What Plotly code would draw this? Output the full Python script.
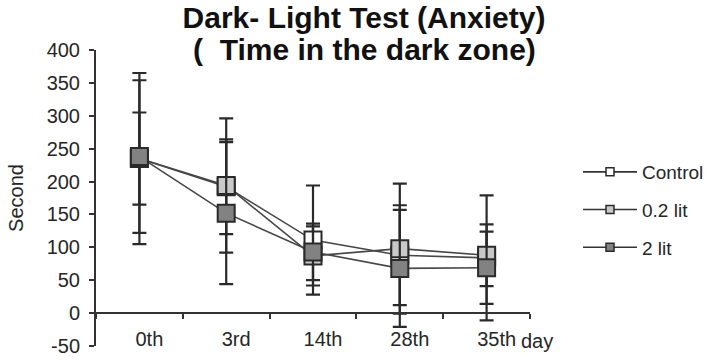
import plotly.graph_objects as go

# Test days (categories)
days = ["0th", "3rd", "14th", "28th", "35th"]

# Mean time spent in the dark zone (seconds) and standard deviations
control = [235, 192, 111, 88, 84]
control_sd = [130, 72, 83, 76, 95]

lit_02 = [235, 194, 87, 98, 88]
lit_02_sd = [70, 102, 45, 99, 47]

lit_2 = [238, 152, 93, 68, 69]
lit_2_sd = [116, 108, 43, 89, 55]

# Y axis ticks (hyphen-minus labels)
y_ticks = [-50, 0, 50, 100, 150, 200, 250, 300, 350, 400]
y_tick_text = ["-50", "0", "50", "100", "150", "200", "250", "300", "350", "400"]

series = [
    ("Control", control, control_sd, "#ffffff"),
    ("0.2 lit", lit_02, lit_02_sd, "#c8c8c8"),
    ("2 lit", lit_2, lit_2_sd, "#828282"),
]

FONT = "Liberation Sans, Arial, sans-serif"
INK = "#262626"
EDGE = "#2a2a2a"

fig = go.Figure()

for name, vals, sd, fill in series:
    fig.add_trace(go.Scatter(
        x=days, y=vals, name=name, mode="lines+markers",
        line=dict(color="#474747", width=1.6),
        marker=dict(symbol="square", size=17, color=fill,
                    line=dict(color=EDGE, width=2)),
        error_y=dict(type="data", array=sd, visible=True,
                     color=EDGE, thickness=2.2, width=7),
        showlegend=False,
    ))

# Legend entries with small marker symbols
for i, (name, vals, sd, fill) in enumerate(series):
    fig.add_trace(go.Scatter(
        x=[None], y=[None], name=name, mode="lines+markers",
        legendgroup=f"g{i}",
        line=dict(color="#333333", width=1.6),
        marker=dict(symbol="square", size=8, color=fill,
                    line=dict(color=EDGE, width=1.5)),
    ))

fig.update_layout(
    width=710, height=360,
    margin=dict(l=96, r=180, t=50, b=14),
    paper_bgcolor="white", plot_bgcolor="white",
    font=dict(family=FONT, size=20, color=INK),
    title=dict(
        text="<b>Dark- Light Test (Anxiety)</b>",
        font=dict(family=FONT, size=30, color="#111111"),
        x=364 / 710, xref="container", xanchor="center",
        y=1 - 17 / 360, yref="container", yanchor="middle",
    ),
    annotations=[
        dict(text="<b>(\u00a0 Time in the dark zone)</b>", xref="paper", yref="paper",
             x=(364 - 96) / 434, y=(346 - 49) / 296, xanchor="center",
             yanchor="middle", showarrow=False,
             font=dict(family=FONT, size=30, color="#111111")),
        dict(text="day", xref="paper", yref="paper",
             x=(519 - 96) / 434, y=(346 - 341) / 296, xanchor="left",
             yanchor="middle", showarrow=False,
             font=dict(family=FONT, size=20, color=INK)),
    ],
    legend=dict(
        xref="container", yref="container",
        x=578 / 710, y=1 - 153 / 360, xanchor="left", yanchor="top",
        font=dict(family=FONT, size=19, color=INK),
        itemwidth=54, tracegroupgap=10, traceorder="grouped",
        bgcolor="rgba(0,0,0,0)", borderwidth=0,
    ),
    xaxis=dict(
        type="category", range=[-0.5, 4.5],
        anchor="free", position=50 / 450, automargin=False,
        showline=True, linecolor="#333333", linewidth=2,
        ticks="outside", ticklen=5, tickwidth=2, tickcolor="#333333",
        tickson="boundaries", showgrid=False, zeroline=False,
        ticklabelshift=10, ticklabelstandoff=8,
        tickfont=dict(family=FONT, size=20, color=INK),
    ),
    yaxis=dict(
        range=[-50, 400], tickvals=y_ticks, ticktext=y_tick_text,
        automargin=False,
        showline=True, linecolor="#333333", linewidth=2,
        ticks="outside", ticklen=5, tickwidth=2, tickcolor="#333333",
        showgrid=False, zeroline=False, ticklabelstandoff=5,
        tickfont=dict(family=FONT, size=20, color=INK),
        title=dict(text="Second", standoff=18,
                   font=dict(family=FONT, size=20, color=INK)),
    ),
)

fig.write_html("out.html")
